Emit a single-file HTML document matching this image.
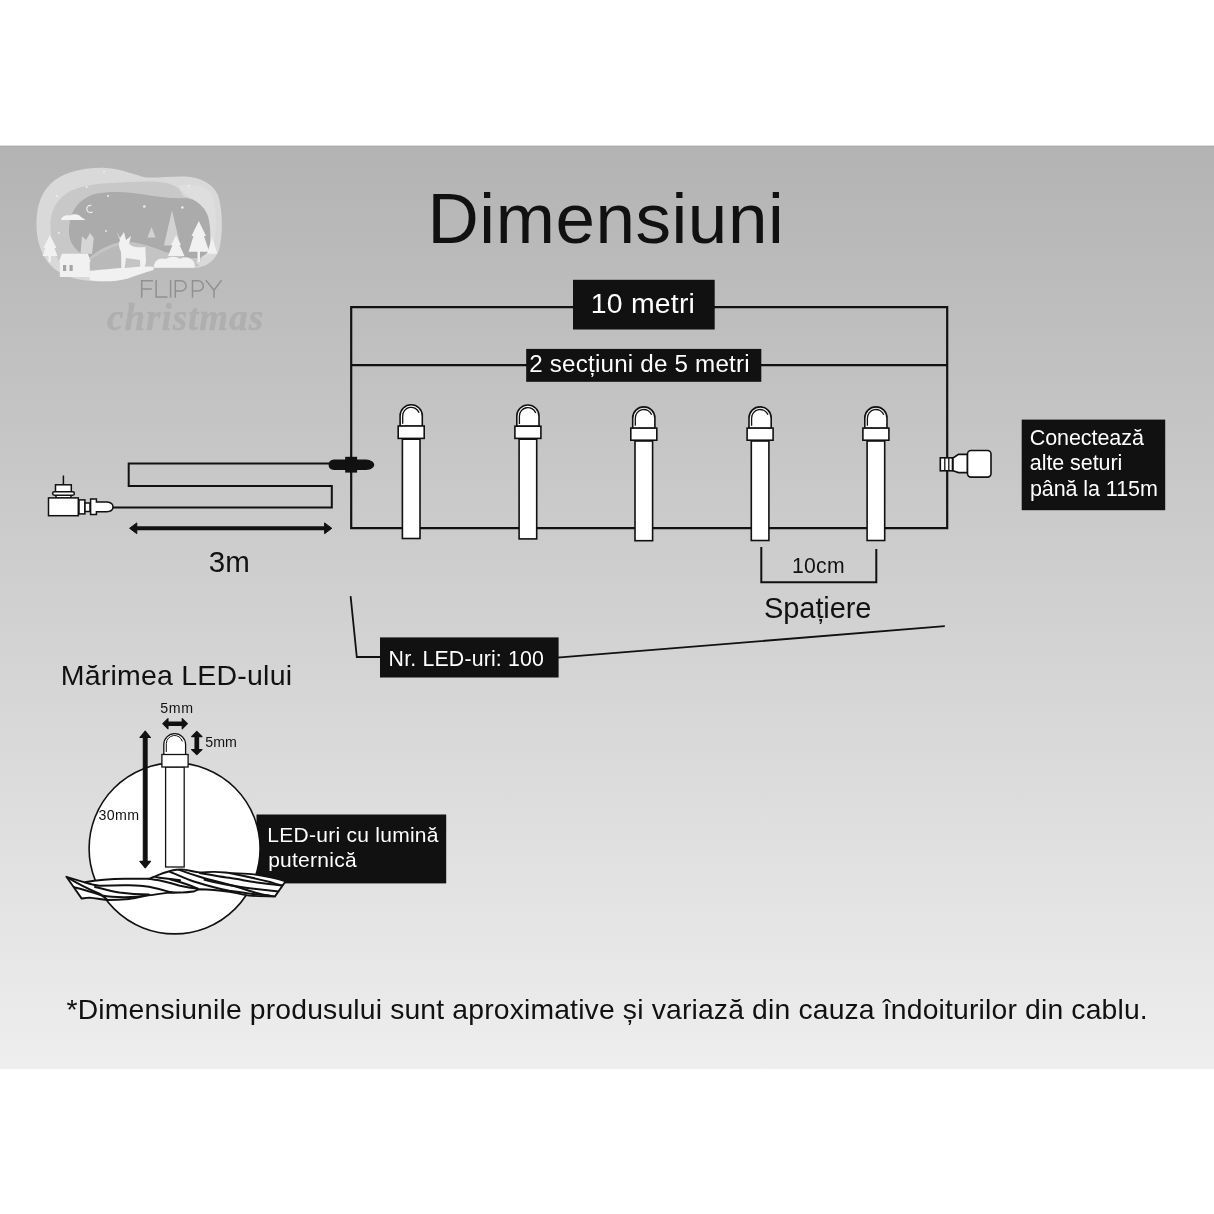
<!DOCTYPE html>
<html><head><meta charset="utf-8">
<style>
html,body{margin:0;padding:0;background:#fff;width:1214px;height:1214px;overflow:hidden}
svg{display:block;will-change:transform}
text{font-family:"Liberation Sans",sans-serif}
</style></head>
<body>
<svg width="1214" height="1214" viewBox="0 0 1214 1214">
<defs>
<linearGradient id="bg" x1="0" y1="0" x2="0" y2="1">
<stop offset="0" stop-color="#b3b3b3"/>
<stop offset="1" stop-color="#eeeeee"/>
</linearGradient>
</defs>
<rect x="0" y="0" width="1214" height="1214" fill="#fff"/>
<rect x="0" y="146" width="1214" height="923" fill="url(#bg)"/>
<rect x="0" y="145.6" width="1214" height="1.2" fill="#aaaaaa"/>

<g id="logo">
<path fill="#d9d9d9" d="M36.5 226 C 36 205 42 190 55 180 C 68 171 88 167 106 168 C 122 169 135 175 146 177.5 C 160 178 172 176 185 176.5 C 200 177 212 183 218 195 C 223 210 223 235 219 250 C 215 260 208 266 198 267.5 L 153 267.5 C 143 270 135 273 128 277 C 115 281.5 100 282.5 82 280 C 65 277 52 270 45 258 C 39 248 36.5 236 36.5 226 Z"/>
<path fill="#c8c8c8" d="M50.5 224 C 51 207 60 194 78 188 C 98 182 125 182.5 145 181.5 C 160 181 172 183 178 188 C 181 191 182 194 183 196 L 195 200 C 203 210 206 225 206 245 L 200 262 L 62 266 C 54 256 50.5 240 50.5 224 Z"/>
<path fill="#dedede" d="M178 186 C 190 183 205 184 212 195 C 217 210 217 235 212 252 L 204 258 C 206 235 204 215 196 202 C 190 196 184 194 178 186 Z"/>
<path fill="#ababab" d="M69 232 C 69 212 78 199 95 194 C 115 190 135 193 153 196 C 168 198 178 198.5 186 198 C 196 199 204 206 208 216 C 211 228 211 240 209 252 L 200 258 L 92 260 C 79 254 69 245 69 232 Z"/>
<path fill="#c4c4c4" d="M84 262 C 95 252 108 244 122 242 C 135 241 150 246 165 252 L 190 258 L 200 266 L 90 272 Z"/>
<path fill="#b9b9b9" d="M88 262 C 98 254 110 247 121 245 L 126 270 L 92 272 Z"/>
<path fill="#d2d2d2" d="M147.4 237.4 L 151.5 227 L 155.6 237.4 Z M163.9 245.6 L 172 210.6 L 180.3 245.6 Z"/>
<path fill="#d6d6d6" d="M80.5 253.8 L 82 236 L 86 240 L 90 233 L 93.8 238 L 92 253.8 Z"/>
<g fill="#f1f1f1">
<path d="M49.8 235 L 56.5 248 L 54.5 248 L 57.5 256 L 51 256 L 51 262 L 48.5 262 L 48.5 256 L 42.5 256 L 45.5 248 L 43.5 248 Z"/>
<path d="M198.8 221 L 206 236 L 204 236 L 209.2 251.8 L 200 251.8 L 200 262 L 197.5 262 L 197.5 251.8 L 188.6 251.8 L 193.5 236 L 191.5 236 Z"/>
<path d="M176 235.3 L 181 245 L 179.5 245 L 184.5 256 L 168 256 L 172.5 245 L 171 245 Z"/>
<path d="M212.2 237.4 L 217.4 253.8 L 207 253.8 Z"/>
<path d="M58.8 262 L 62 253.8 L 88 253.8 L 90.7 262 Z"/>
<rect x="59.9" y="262" width="29.8" height="15"/>
<path d="M89.7 271 C 100 270 115 268 125 268 C 135 267 145 266 153.6 267 L 153.6 270 C 143 273 135 276 128 278.5 C 115 282 100 282 89.7 280 Z"/>
<path d="M153.6 267.8 C 154 260 160 257 166 259 C 170 256 176 256 180 259 C 186 256 193 258 194.7 264 L 194.7 267.8 Z"/>
<path d="M116.5 231 L 120 238 L 124 232 L 126 240 L 131 236 L 129 244 C 132 246 134 248 145.3 247 L 146 262 L 143 273 L 140.5 273 L 140 260 L 126 258 L 124 273.4 L 121.5 273.4 L 121 252 C 119 248 118 244 120 240 Z"/>
</g>
<g fill="#a5a5a5"><rect x="63" y="265" width="3.2" height="6"/><rect x="69.5" y="265" width="3.2" height="6"/></g>
<path fill="#f3f3f3" d="M60.9 219.9 C 62 216 66 214.7 70 215.5 C 74 213.5 79 214 81 217 L 85.6 219.9 Z"/>
<path fill="none" stroke="#ececec" stroke-width="1.2" d="M91.5 205.5 A3.6 3.6 0 1 0 92.5 211.8"/>
<g fill="#eeeeee"><circle cx="108" cy="196" r="1"/><circle cx="144.3" cy="206.5" r="1.3"/><circle cx="182.4" cy="207.5" r="1.3"/><circle cx="106" cy="231" r="0.9"/><circle cx="58.8" cy="233" r="1"/><circle cx="56.8" cy="196" r="0.9"/><circle cx="86.6" cy="187" r="1"/><circle cx="104" cy="171.5" r="1"/><circle cx="188.6" cy="186" r="1"/></g>
</g>
<path fill="none" stroke="#909090" stroke-width="1.5" d="M141.7 297.7 V280.8 H153 M141.7 289.1 H151.8 M156.1 280.1 V296.9 H167.5 M170.6 280.1 V297.7 M175.3 297.7 V280.8 H181 A5.1 5.1 0 0 1 181 291 H175.3 M192.5 297.7 V280.8 H198.2 A5.1 5.1 0 0 1 198.2 291 H192.5 M205.8 280.1 L214 290.3 L221.6 280.1 M214 290.3 V297.7"/>
<text x="107" y="330" font-size="37" fill="#afafaf" font-style="italic" font-weight="bold" stroke="#afafaf" stroke-width="0.4" stroke-linejoin="round" letter-spacing="1.0" style="font-family:'Liberation Serif',serif">christmas</text>
<text x="427.52" y="243.40" font-size="71" letter-spacing="0.556" fill="#111" >Dimensiuni</text>
<g fill="none" stroke="#111" stroke-width="2.2">
<path d="M351.2 528.2 V307.2 H947.2 V528.2 Z"/>
<path d="M351.2 365.2 H947.2"/>
</g>
<rect x="573" y="279.8" width="141.7" height="49.7" fill="#111"/>
<rect x="526.2" y="348.9" width="235.1" height="32.9" fill="#111"/>

<text x="590.77" y="312.70" font-size="28.4" letter-spacing="0.222" fill="#fff" >10 metri</text>
<text x="529.29" y="372.30" font-size="24.2" letter-spacing="0.191" fill="#fff" >2 secțiuni de 5 metri</text>
<g stroke="#111" stroke-width="1.6" fill="#fff">
<rect x="402.40" y="439.20" width="17.60" height="99.30"/>
<path d="M400.10 426.20 V415.80 A11.10 11.10 0 0 1 422.30 415.80 V426.20 Z"/>
<rect x="398.20" y="426.00" width="26.00" height="12.40"/>
<path fill="none" stroke-width="1.3" d="M402.70 423.70 V415.80 A8.50 8.50 0 0 1 419.10 412.66"/>
<rect x="519.10" y="439.20" width="17.60" height="99.70"/>
<path d="M516.80 426.40 V416.10 A11.10 11.10 0 0 1 539.00 416.10 V426.40 Z"/>
<rect x="514.90" y="426.20" width="26.00" height="12.20"/>
<path fill="none" stroke-width="1.3" d="M519.40 423.90 V416.10 A8.50 8.50 0 0 1 535.80 412.96"/>
<rect x="635.00" y="441.00" width="17.60" height="99.70"/>
<path d="M632.70 428.30 V418.00 A11.10 11.10 0 0 1 654.90 418.00 V428.30 Z"/>
<rect x="630.80" y="428.10" width="26.00" height="12.10"/>
<path fill="none" stroke-width="1.3" d="M635.30 425.80 V418.00 A8.50 8.50 0 0 1 651.70 414.86"/>
<rect x="751.30" y="441.00" width="17.60" height="99.50"/>
<path d="M749.00 428.30 V418.00 A11.10 11.10 0 0 1 771.20 418.00 V428.30 Z"/>
<rect x="747.10" y="428.10" width="26.00" height="12.10"/>
<path fill="none" stroke-width="1.3" d="M751.60 425.80 V418.00 A8.50 8.50 0 0 1 768.00 414.86"/>
<rect x="867.10" y="441.00" width="17.60" height="99.50"/>
<path d="M864.80 428.30 V418.00 A11.10 11.10 0 0 1 887.00 418.00 V428.30 Z"/>
<rect x="862.90" y="428.10" width="26.00" height="12.10"/>
<path fill="none" stroke-width="1.3" d="M867.40 425.80 V418.00 A8.50 8.50 0 0 1 883.80 414.86"/>
</g>
<path fill="none" stroke="#111" stroke-width="2" d="M113 507.5 H331.8 V485.9 H128.7 V463.6 H334"/>
<path fill="#111" d="M334 459.4 H366 C 371 459.8 374.2 462 374.2 464.7 C 374.2 467.4 371 469.6 366 470 H334 Q328.6 469.6 328.6 464.7 Q328.6 459.8 334 459.4 Z"/>
<rect x="345.2" y="456.8" width="11.9" height="15.8" fill="#111"/>
<path fill="none" stroke="#111" stroke-width="4" d="M134 528.3 H327.5"/>
<path fill="#111" stroke="#111" stroke-width="1" stroke-linejoin="round" d="M129.6 528.3 L136.8 522.9 L136.8 533.7 Z M331.8 528.3 L324.6 522.9 L324.6 533.7 Z"/>
<text x="208.72" y="571.70" font-size="29.5" letter-spacing="0.093" fill="#111" >3m</text>
<g stroke="#111" stroke-width="1.5" fill="#fff">
<path fill="none" d="M63.4 475.5 V484.5"/>
<rect x="55.5" y="484.8" width="15.8" height="7.2"/>
<rect x="56" y="494.5" width="15" height="3.5"/>
<rect x="52.6" y="491.8" width="21.8" height="3.5" rx="1.7"/>
<rect x="48.5" y="497.9" width="29.8" height="17.8"/>
<rect x="79" y="499.9" width="5.9" height="14"/>
<rect x="85" y="503" width="5" height="8.5"/>
<path d="M90.6 499 H96.4 V501.9 H107 Q113 502.5 113 506.9 Q113 511.3 107 511.8 H96.4 V514.6 H90.6 Z"/>
</g>
<g stroke="#111" stroke-width="1.6" fill="#fff">
<rect x="940.3" y="457.8" width="12.2" height="13"/>
<path fill="none" stroke-width="1.3" d="M944.8 458 V470.6 M948.8 458 V470.6"/>
<path d="M953 458 L958.5 454.4 H967.5 V472.6 H958.5 L953 470.7 Z"/>
<rect x="967.5" y="450.5" width="23.5" height="26.6" rx="3.5"/>
</g>
<rect x="1021.7" y="419.6" width="143.5" height="90.6" fill="#111"/>
<text x="1029.72" y="444.80" font-size="21.5" letter-spacing="-0.070" fill="#fff" >Conectează</text>
<text x="1029.83" y="470.20" font-size="21.5" letter-spacing="-0.070" fill="#fff" >alte seturi</text>
<text x="1029.90" y="495.60" font-size="21.5" letter-spacing="-0.070" fill="#fff" >până la 115m</text>
<path fill="none" stroke="#111" stroke-width="2" d="M761.3 547 V582.2 H876.3 V549"/>
<text x="792.01" y="572.60" font-size="21.2" letter-spacing="0.245" fill="#111" >10cm</text>
<text x="764.10" y="618.40" font-size="29" letter-spacing="-0.102" fill="#111" >Spațiere</text>
<path fill="none" stroke="#111" stroke-width="1.8" d="M350.6 596.2 L356.8 657 H382 M557 657.6 L944.8 626.2"/>
<rect x="380" y="637.4" width="178.6" height="40.1" fill="#111"/>
<text x="388.60" y="665.80" font-size="21.3" letter-spacing="0.176" fill="#fff" >Nr. LED-uri: 100</text>
<text x="60.82" y="685.30" font-size="28.5" letter-spacing="0.209" fill="#111" >Mărimea LED-ului</text>
<rect x="256.5" y="814.5" width="189.7" height="68.9" fill="#111"/>
<text x="267.32" y="842.00" font-size="21" letter-spacing="0.265" fill="#fff" >LED-uri cu lumină</text>
<text x="268.13" y="867.10" font-size="21" letter-spacing="0.265" fill="#fff" >puternică</text>
<circle cx="174.6" cy="848.4" r="85.5" fill="#fff" stroke="#111" stroke-width="1.6"/>
<text x="66.58" y="1018.70" font-size="28.3" letter-spacing="0.171" fill="#111" >*Dimensiunile produsului sunt aproximative și variază din cauza îndoiturilor din cablu.</text>
<g stroke="#111" stroke-width="1.3" fill="#fff">
<rect x="165.6" y="767" width="18.6" height="100"/>
<path d="M163.8 756 V744.6 A10.9 10.9 0 0 1 185.6 744.6 V756 Z"/>
<rect x="161.9" y="754.5" width="26.2" height="12.5"/>
<path fill="none" stroke-width="1" d="M166.3 752 V743.5 A8.2 8.2 0 0 1 182.4 741.5"/>
</g>
<g fill="#111" stroke="#111" stroke-width="1.1" stroke-linejoin="round">
<path d="M162.8 723.7 L168 718.6 V722 H182.2 V718.6 L187.4 723.7 L182.2 728.8 V725.4 H168 V728.8 Z"/>
<path d="M196.8 731.4 L202 736.6 H198.6 V749.5 H202 L196.8 754.7 L191.6 749.5 H195 V736.6 H191.6 Z"/>
<path d="M145.2 731 L150.5 737.5 H147.1 V861.4 H150.5 L145.2 867.9 L139.9 861.4 H143.3 V737.5 H139.9 Z"/>
</g>
<text x="160.33" y="712.80" font-size="14.2" letter-spacing="0.583" fill="#111" >5mm</text>
<text x="205.13" y="747.10" font-size="14.2" letter-spacing="0.134" fill="#111" >5mm</text>
<text x="98.53" y="820.10" font-size="14.2" letter-spacing="0.362" fill="#111" >30mm</text>
<defs><clipPath id="cabclip"><path d="M66.4 876.8 L84.7 882.3 C 95 880.5 110 879 125 878.8 C 138 878.6 146 878.8 149 878.8 C 152 877.5 154 876.8 157 875.5 C 163 873 168 871.5 172 870.5 C 176 869.5 180 869.2 184 869.6 C 190 870.5 195 872 199.7 872.4 C 205 872.3 210 871.8 214.5 871.9 C 220 872 225 872.6 229.3 872.9 C 240 873.5 248 873.8 254 874.4 C 268 876.5 278 879 285.6 881.3 L 274.8 896.6 C 265 896.3 256 896 249.1 895.6 C 240 894.5 235 892.5 229.3 891.7 C 220 890.5 210 889.5 199.7 889.2 C 197 889.6 196 890.5 194.7 891.2 C 190 892 185 892.4 179.9 892.6 C 175 892.8 172 892.8 168.7 892.6 C 160 893.5 153 895 147 895.6 C 140 897 135 898.5 129.2 899 C 122 899.6 113 900 107.4 900 C 100 899.2 95 898 89.7 897.6 C 86 897.8 84 898.3 81.7 898.6 L 73.8 887.2 Z"/></clipPath></defs>
<path fill="#fff" stroke="none" d="M66.4 876.8 L84.7 882.3 C 95 880.5 110 879 125 878.8 C 138 878.6 146 878.8 149 878.8 C 152 877.5 154 876.8 157 875.5 C 163 873 168 871.5 172 870.5 C 176 869.5 180 869.2 184 869.6 C 190 870.5 195 872 199.7 872.4 C 205 872.3 210 871.8 214.5 871.9 C 220 872 225 872.6 229.3 872.9 C 240 873.5 248 873.8 254 874.4 C 268 876.5 278 879 285.6 881.3 L 274.8 896.6 C 265 896.3 256 896 249.1 895.6 C 240 894.5 235 892.5 229.3 891.7 C 220 890.5 210 889.5 199.7 889.2 C 197 889.6 196 890.5 194.7 891.2 C 190 892 185 892.4 179.9 892.6 C 175 892.8 172 892.8 168.7 892.6 C 160 893.5 153 895 147 895.6 C 140 897 135 898.5 129.2 899 C 122 899.6 113 900 107.4 900 C 100 899.2 95 898 89.7 897.6 C 86 897.8 84 898.3 81.7 898.6 L 73.8 887.2 Z"/>
<g stroke="#111" stroke-width="2" fill="none" stroke-linecap="round" clip-path="url(#cabclip)">
<path fill="none" d="M66.4 876.8 C 75 882 88 889 99.5 893.6 C 103 896 105.5 898 107.4 900"/>
<path fill="none" d="M73.8 887.2 C 82 889 92 892 102 895.5 C 115 898 135 897.5 147 895.6"/>
<path fill="none" d="M84.7 882.3 C 90 884 95 885.5 99.5 885.7 C 110 885.3 120 885 129.2 885.2 C 138 885.5 144 886 149 886.7 C 158 888.5 163 890 168.7 891.7 C 173 892.5 176 892.8 179.9 892.6"/>
<path fill="none" d="M95 887 C 102 888.5 110 891 119.3 892.6 C 130 894 140 894.5 149 894.6"/>
<path fill="none" d="M149 878.8 C 153 879.5 156 880 158.8 880.3 C 165 881.5 172 883.5 180 885.7 C 186 887 192 888 197.7 888.7"/>
<path fill="none" d="M154.9 876.8 C 158 877.5 161 878 163.8 878.3 C 169 878.8 175 879.5 180 880.3"/>
<path fill="none" d="M170 879.3 C 180 882 190 885 197.7 888.7"/>
<path fill="none" d="M177.9 869.4 C 185 872 192 874.5 199.7 876.8 C 210 880 220 882.5 229.3 884.7 C 237 886.5 243 888.5 249.1 890.7 C 258 893.5 266 895.5 274.8 896.6"/>
<path fill="none" d="M170 871.9 C 178 875 186 879 194.7 881.8 C 205 885 217 888.5 229.3 890.7 C 245 893 258 894.8 268.8 895.6"/>
<path fill="none" d="M199.7 872.9 C 210 874.5 220 876.5 229.3 877.8 C 240 879.5 250 881.5 259 882.8 C 268 884 276 885 285.6 885.7"/>
<path fill="none" d="M204.6 879.8 C 215 882.5 228 885 239.2 886.7 C 255 889 268 890.5 280.7 891.7"/>
<path fill="none" d="M229.3 872.9 C 245 876 260 879.5 270 882 C 275 883.5 279 884.8 282.7 885.7"/>
</g>
<path fill="none" stroke="#111" stroke-width="1.9" stroke-linejoin="round" d="M66.4 876.8 L84.7 882.3 C 95 880.5 110 879 125 878.8 C 138 878.6 146 878.8 149 878.8 C 152 877.5 154 876.8 157 875.5 C 163 873 168 871.5 172 870.5 C 176 869.5 180 869.2 184 869.6 C 190 870.5 195 872 199.7 872.4 C 205 872.3 210 871.8 214.5 871.9 C 220 872 225 872.6 229.3 872.9 C 240 873.5 248 873.8 254 874.4 C 268 876.5 278 879 285.6 881.3 L 274.8 896.6 C 265 896.3 256 896 249.1 895.6 C 240 894.5 235 892.5 229.3 891.7 C 220 890.5 210 889.5 199.7 889.2 C 197 889.6 196 890.5 194.7 891.2 C 190 892 185 892.4 179.9 892.6 C 175 892.8 172 892.8 168.7 892.6 C 160 893.5 153 895 147 895.6 C 140 897 135 898.5 129.2 899 C 122 899.6 113 900 107.4 900 C 100 899.2 95 898 89.7 897.6 C 86 897.8 84 898.3 81.7 898.6 L 73.8 887.2 Z"/>
</svg>
</body></html>
